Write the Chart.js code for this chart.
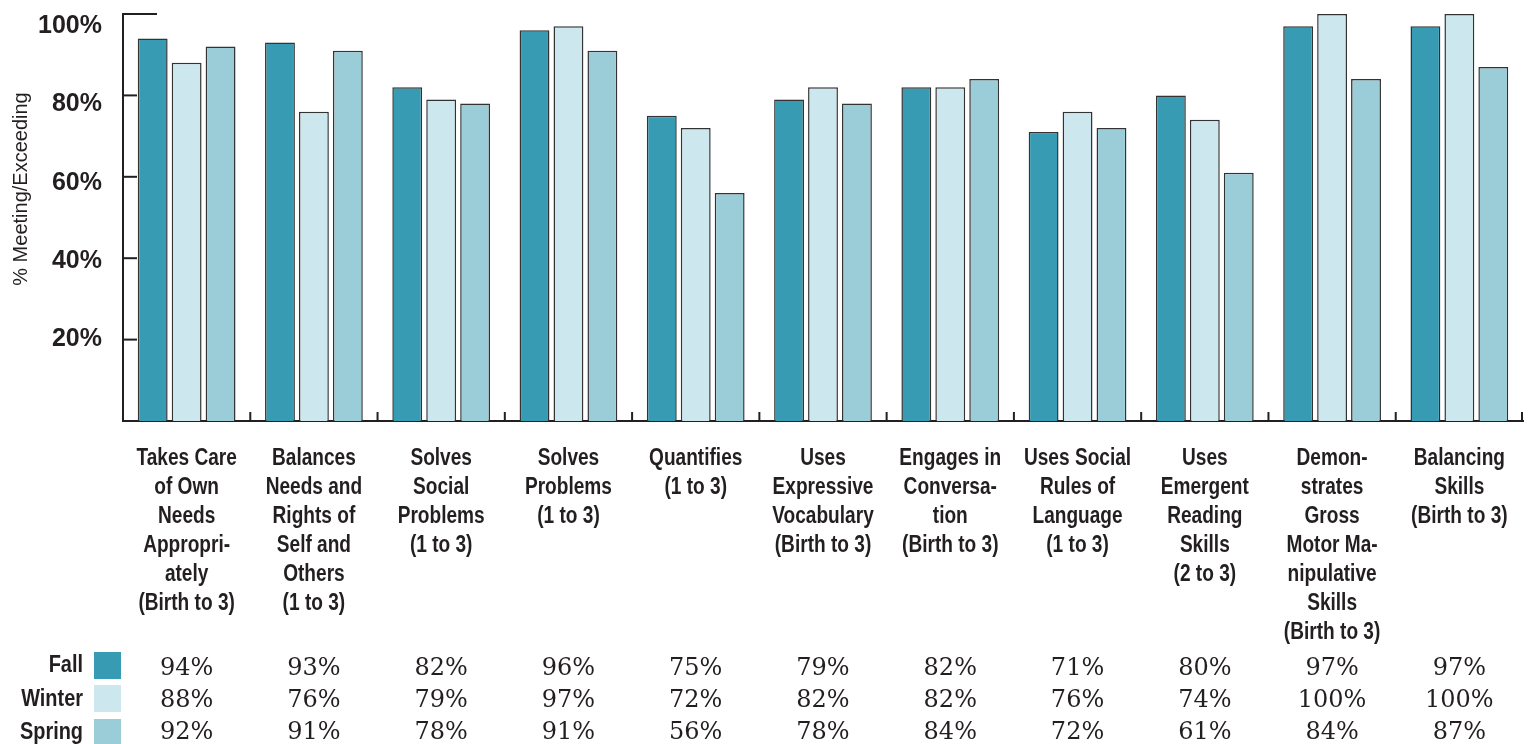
<!DOCTYPE html>
<html>
<head>
<meta charset="utf-8">
<title>% Meeting/Exceeding by season</title>
<script src="https://cdn.jsdelivr.net/npm/chart.js@4.4.1/dist/chart.umd.min.js"></script>
<style>
  html, body { margin: 0; padding: 0; background: #ffffff; }
  #wrap { position: relative; width: 1533px; height: 744px; }
</style>
</head>
<body>
<div id="wrap"><canvas id="chart" width="1533" height="744"></canvas></div>
<script>
const categories = [
  ['Takes Care', 'of Own', 'Needs', 'Appropri-', 'ately', '(Birth to 3)'],
  ['Balances', 'Needs and', 'Rights of', 'Self and', 'Others', '(1 to 3)'],
  ['Solves', 'Social', 'Problems', '(1 to 3)'],
  ['Solves', 'Problems', '(1 to 3)'],
  ['Quantifies', '(1 to 3)'],
  ['Uses', 'Expressive', 'Vocabulary', '(Birth to 3)'],
  ['Engages in', 'Conversa-', 'tion', '(Birth to 3)'],
  ['Uses Social', 'Rules of', 'Language', '(1 to 3)'],
  ['Uses', 'Emergent', 'Reading', 'Skills', '(2 to 3)'],
  ['Demon-', 'strates', 'Gross', 'Motor Ma-', 'nipulative', 'Skills', '(Birth to 3)'],
  ['Balancing', 'Skills', '(Birth to 3)']
];
const seasons = ['Fall', 'Winter', 'Spring'];
const fallValues = [94, 93, 82, 96, 75, 79, 82, 71, 80, 97, 97];
const winterValues = [88, 76, 79, 97, 72, 82, 82, 76, 74, 100, 100];
const springValues = [92, 91, 78, 91, 56, 78, 84, 72, 61, 84, 87];
const yTicks = [20, 40, 60, 80, 100];

const colors = {
  fall: '#369bb3',
  winter: '#cde7ee',
  spring: '#9bcdd8',
  edge: '#333333',
  axis: '#231f20',
  text: '#231f20'
};
const sans = "'Liberation Sans', Arial, sans-serif";
const serif = "'DejaVu Serif', Cambria, serif";
// the original uses a condensed bold face; squeeze the regular one to match
const condense = 0.83;

function narrowText(ctx, text, x, y) {
  ctx.save();
  ctx.translate(x, y);
  ctx.scale(condense, 1);
  ctx.fillText(text, 0, 0);
  ctx.restore();
}

// inward tick marks, axis labels, y title and the value table
const decorations = {
  id: 'decorations',
  afterDraw(chart) {
    const { ctx, chartArea } = chart;
    const x = chart.scales.x;
    const y = chart.scales.y;

    ctx.save();
    ctx.strokeStyle = colors.axis;
    ctx.lineWidth = 2;
    yTicks.forEach((v) => {
      const py = y.getPixelForValue(v);
      ctx.beginPath();
      ctx.moveTo(chartArea.left, py);
      ctx.lineTo(chartArea.left + (v === 100 ? 34 : 14), py);
      ctx.stroke();
    });
    for (let i = 0; i < categories.length; i++) {
      const px = i === categories.length - 1
        ? chartArea.right - 1
        : (x.getPixelForValue(i) + x.getPixelForValue(i + 1)) / 2;
      ctx.beginPath();
      ctx.moveTo(px, chartArea.bottom);
      ctx.lineTo(px, chartArea.bottom - 9);
      ctx.stroke();
    }

    // y labels sit a little below their ticks, drifting more towards the top
    ctx.fillStyle = colors.text;
    ctx.font = 'bold 25px ' + sans;
    ctx.textAlign = 'right';
    ctx.textBaseline = 'middle';
    yTicks.forEach((v) => {
      ctx.fillText(v + '%', chartArea.left - 21, y.getPixelForValue(v) + (v - 20) * 0.15);
    });

    ctx.font = 'bold 23px ' + sans;
    ctx.textAlign = 'center';
    ctx.textBaseline = 'alphabetic';
    categories.forEach((lines, i) => {
      const px = x.getPixelForValue(i);
      lines.forEach((line, k) => narrowText(ctx, line, px, 465 + k * 29));
    });

    ctx.font = '20px ' + sans;
    ctx.textBaseline = 'middle';
    ctx.translate(21, 189);
    ctx.rotate(-Math.PI / 2);
    ctx.fillText('% Meeting/Exceeding', 0, 0);
    ctx.restore();

    const rows = [
      { values: fallValues, color: colors.fall, labelY: 672, valueY: 675, boxY: 652 },
      { values: winterValues, color: colors.winter, labelY: 706, valueY: 707, boxY: 685 },
      { values: springValues, color: colors.spring, labelY: 739, valueY: 739, boxY: 719 }
    ];
    ctx.save();
    ctx.textBaseline = 'alphabetic';
    rows.forEach((row, r) => {
      ctx.fillStyle = colors.text;
      ctx.font = 'bold 24px ' + sans;
      ctx.textAlign = 'right';
      narrowText(ctx, seasons[r], 83, row.labelY);
      ctx.fillStyle = row.color;
      ctx.fillRect(94, row.boxY, 27, 27);
      ctx.fillStyle = colors.text;
      ctx.font = '24px ' + serif;
      ctx.textAlign = 'center';
      row.values.forEach((v, i) => {
        ctx.fillText(v + '%', x.getPixelForValue(i), row.valueY);
      });
    });
    ctx.restore();
  }
};

function barSet(label, data, color) {
  return {
    label,
    data,
    backgroundColor: color,
    borderColor: colors.edge,
    borderWidth: 1.5,
    borderSkipped: 'bottom',
    categoryPercentage: 0.8,
    barPercentage: 0.88
  };
}

new Chart(document.getElementById('chart'), {
  type: 'bar',
  data: {
    labels: categories,
    datasets: [
      barSet(seasons[0], fallValues, colors.fall),
      barSet(seasons[1], winterValues, colors.winter),
      barSet(seasons[2], springValues, colors.spring)
    ]
  },
  options: {
    responsive: false,
    animation: false,
    clip: false,
    layout: { padding: { top: 14, right: 10, left: 0, bottom: 0 } },
    plugins: {
      legend: { display: false },
      tooltip: { enabled: false }
    },
    scales: {
      x: {
        grid: { display: false, drawTicks: false },
        border: { display: true, color: colors.axis, width: 2 },
        ticks: { display: false },
        afterFit(scale) {
          scale.height = 323;
          scale.paddingLeft = 0;
          scale.paddingRight = 0;
        }
      },
      y: {
        min: 0,
        max: 100,
        grid: { display: false, drawTicks: false },
        border: { display: true, color: colors.axis, width: 2 },
        ticks: { display: false, stepSize: 20 },
        afterFit(scale) {
          scale.width = 123;
          scale.paddingTop = 0;
          scale.paddingBottom = 0;
        }
      }
    }
  },
  plugins: [decorations]
});
</script>
</body>
</html>
